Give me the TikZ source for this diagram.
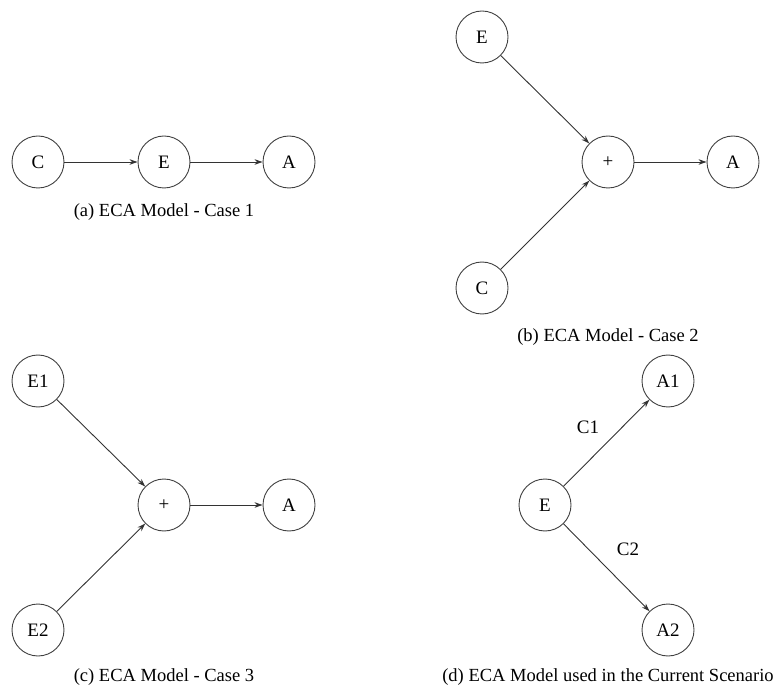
\documentclass[tikz,border=0pt]{standalone}
\usepackage{fontspec}
\setmainfont{Liberation Serif}
\usetikzlibrary{arrows.meta}
\begin{document}
\begin{tikzpicture}[x=1pt,y=-1pt,
  state/.style={circle,draw=black!75,line width=0.9pt,minimum size=52pt,inner sep=0pt,font=\fontsize{19}{22}\selectfont},
  link/.style={draw=black!80,line width=0.9pt,-{Stealth[length=8pt,width=5.5pt]}},
  caption/.style={font=\fontsize{18.5}{22}\selectfont},
  edgelabel/.style={font=\fontsize{19}{22}\selectfont}]
\useasboundingbox (0,0) rectangle (779,692);
% (a) Case 1
\node[state] (aC) at (38,162) {C};
\node[state] (aE) at (164,162) {E};
\node[state] (aA) at (289,162) {A};
\draw[link] (aC) -- (aE);
\draw[link] (aE) -- (aA);
\node[caption] (capa) at (164,212) {(a) ECA Model - Case 1};
% (b) Case 2
\node[state] (bE) at (482,37) {E};
\node[state] (bP) at (608,162) {+};
\node[state] (bA) at (733,162) {A};
\node[state] (bC) at (482,288) {C};
\draw[link] (bE) -- (bP);
\draw[link] (bC) -- (bP);
\draw[link] (bP) -- (bA);
\node[caption] (capb) at (608,337) {(b) ECA Model - Case 2};
% (c) Case 3
\node[state] (cE1) at (38,381) {E1};
\node[state] (cP) at (164,505) {+};
\node[state] (cA) at (289,505) {A};
\node[state] (cE2) at (38,630) {E2};
\draw[link] (cE1) -- (cP);
\draw[link] (cE2) -- (cP);
\draw[link] (cP) -- (cA);
\node[caption] (capc) at (164,677) {(c) ECA Model - Case 3};
% (d) current scenario
\node[state] (dA1) at (668,381) {A1};
\node[state] (dE) at (545,505) {E};
\node[state] (dA2) at (668,630) {A2};
\draw[link] (dE) -- (dA1);
\draw[link] (dE) -- (dA2);
\node[edgelabel] (lc1) at (588,427) {C1};
\node[edgelabel] (lc2) at (628,549) {C2};
\node[caption] (capd) at (608,677) {(d) ECA Model used in the Current Scenario};
\end{tikzpicture}
\end{document}
